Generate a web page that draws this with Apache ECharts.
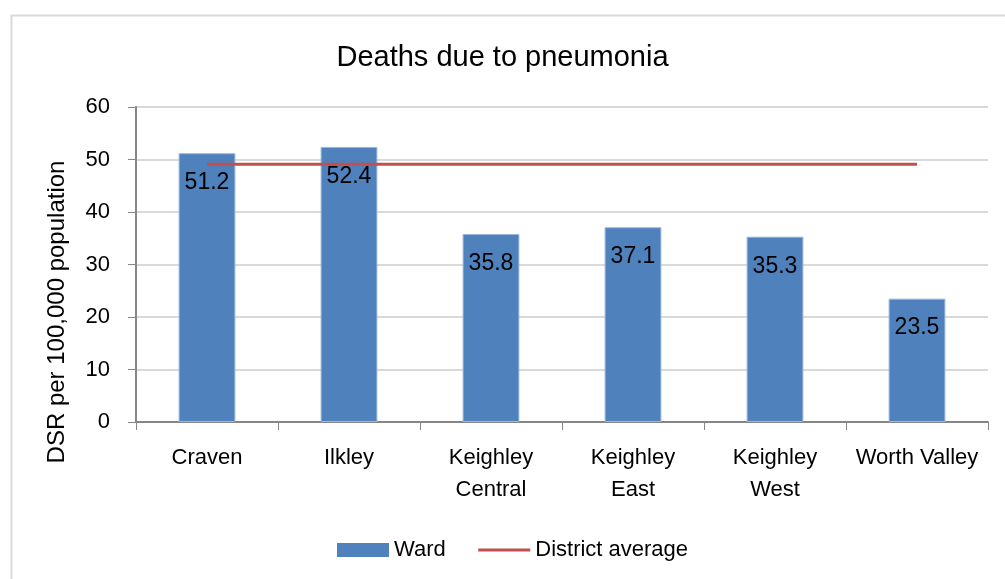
<!DOCTYPE html>
<html>
<head>
<meta charset="utf-8">
<script src="https://cdn.jsdelivr.net/npm/echarts@6/dist/echarts.min.js"></script>
<style>
  html, body { margin: 0; padding: 0; background: #fff; }
  #chart { width: 1005px; height: 579px; }
</style>
</head>
<body>
<div id="chart"></div>
<script>
// wards and values
const wards = ['Craven', 'Ilkley', 'Keighley\nCentral', 'Keighley\nEast', 'Keighley\nWest', 'Worth Valley'];
const wardValues = [51.2, 52.4, 35.8, 37.1, 35.3, 23.5];
const districtAverage = [49.1, 49.1, 49.1, 49.1, 49.1, 49.1];
const yTicks = { min: 0, max: 60, interval: 10 };

const font = '"Liberation Sans", Arial, sans-serif';
const chart = echarts.init(document.getElementById('chart'));

chart.setOption({
  animation: false,
  textStyle: { fontFamily: font },
  title: {
    text: 'Deaths due to pneumonia',
    left: 'center',
    top: 38,
    textStyle: { fontFamily: font, fontSize: 29, fontWeight: 'normal', color: '#000' }
  },
  graphic: [
    {
      type: 'rect',
      left: 9, top: 13,
      shape: { width: 1010, height: 600 },
      style: { fill: 'none', stroke: '#d9d9d9', lineWidth: 2 },
      silent: true
    },
    {
      type: 'text',
      x: 57, y: 312,
      rotation: Math.PI / 2,
      style: {
        text: 'DSR per 100,000 population',
        fontFamily: font, fontSize: 24, fill: '#000',
        align: 'center', verticalAlign: 'middle'
      }
    }
  ],
  grid: { left: 136, right: 17, top: 107, bottom: 157 },
  legend: {
    left: 332,
    top: 534,
    itemWidth: 52,
    itemHeight: 14,
    itemGap: 31,
    textStyle: { fontFamily: font, fontSize: 22, color: '#000' },
    data: [
      { name: 'Ward', icon: 'rect', itemStyle: { borderWidth: 0 } },
      { name: 'District average', itemStyle: { opacity: 0 }, lineStyle: { width: 3 } }
    ]
  },
  xAxis: {
    type: 'category',
    data: wards,
    axisLine: { lineStyle: { color: '#868686', width: 2 } },
    axisTick: { show: true, length: 8, lineStyle: { color: '#868686', width: 1 } },
    axisLabel: { fontFamily: font, fontSize: 22, color: '#000', margin: 20, lineHeight: 32, interval: 0 }
  },
  yAxis: {
    type: 'value',
    min: yTicks.min,
    max: yTicks.max,
    interval: yTicks.interval,
    axisLine: { show: true, lineStyle: { color: '#868686', width: 2 } },
    axisTick: { show: true, length: 8, lineStyle: { color: '#868686' } },
    axisLabel: { fontFamily: font, fontSize: 22, color: '#000', margin: 26 },
    splitLine: { lineStyle: { color: '#d9d9d9', width: 2 } }
  },
  series: [
    {
      name: 'Ward',
      type: 'bar',
      data: wardValues,
      barWidth: '40%',
      itemStyle: { color: '#4f81bd', borderColor: '#9bb7d9', borderWidth: 1 },
      label: {
        show: true,
        position: 'insideTop',
        distance: 18,
        fontFamily: font,
        fontSize: 23,
        color: '#000'
      },
      z: 2
    },
    {
      name: 'District average',
      type: 'line',
      data: districtAverage,
      symbol: 'none',
      lineStyle: { color: '#c0504d', width: 3 },
      itemStyle: { color: '#c0504d' },
      z: 3
    }
  ]
});
</script>
</body>
</html>
